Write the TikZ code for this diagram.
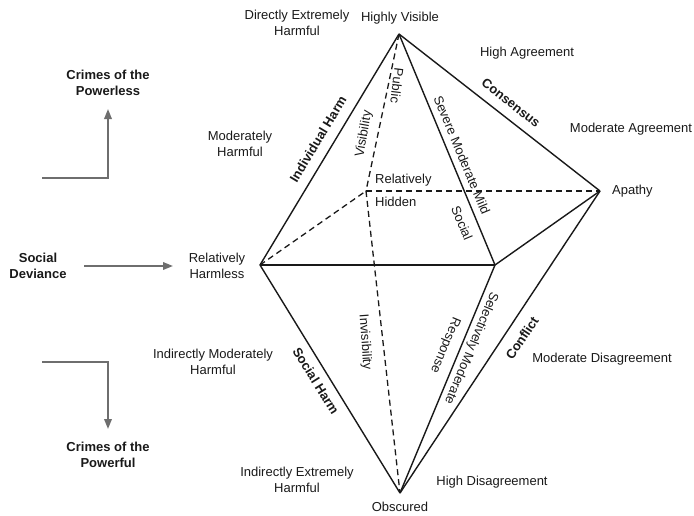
\documentclass[tikz,border=0pt]{standalone}
\usepackage{fontspec}
\setmainfont{Liberation Sans}
\usetikzlibrary{arrows.meta}
\definecolor{arrowgray}{HTML}{6E6E6E}
\begin{document}
\begin{tikzpicture}[x=1pt,y=-1pt,
  lbl/.style={font=\fontsize{13}{15.5}\selectfont, inner sep=0pt, align=center, text=black!90},
  blbl/.style={lbl, font=\fontsize{13}{15.5}\selectfont\bfseries},
  edge/.style={line width=1.4pt, black!90, line join=round},
  hid/.style={line width=1.3pt, black!90, dash pattern=on 6pt off 4pt},
  garrow/.style={line width=1.8pt, arrowgray, -{Triangle[length=10pt,width=7.5pt]}}
]
\useasboundingbox (0,0) rectangle (694,515);
% vertices
\coordinate (T) at (399,34);
\coordinate (L) at (260,265);
\coordinate (F) at (495,265);
\coordinate (B) at (366,191);
\coordinate (A) at (600,191);
\coordinate (O) at (400,493);
% hidden edges
\draw[hid] (T) -- (B);
\draw[hid] (B) -- (O);
\draw[hid] (L) -- (B);
\draw[hid] (B) -- (A);
% visible edges
\draw[edge] (T) -- (L);
\draw[edge] (T) -- (F);
\draw[edge] (T) -- (A);
\draw[edge] (L) -- (F);
\draw[edge] (F) -- (A);
\draw[edge] (L) -- (O);
\draw[edge] (F) -- (O);
\draw[edge] (A) -- (O);
% vertex labels
\node[lbl] (hv) at (400,18) {Highly Visible};
\node[lbl] (obs) at (400,507) {Obscured};
\node[lbl,anchor=west] (ap) at (612,191) {Apathy};
\node[lbl] (rh) at (217,266) {Relatively\\Harmless};
\node[lbl,anchor=west] (rel) at (375,180) {Relatively};
\node[lbl,anchor=west] (hidn) at (375,202) {Hidden};
% side labels
\node[lbl] (deh) at (297,23) {Directly Extremely\\Harmful};
\node[lbl] (mh) at (240,144) {Moderately\\Harmful};
\node[lbl] (imh) at (213,362) {Indirectly Moderately\\Harmful};
\node[lbl] (ieh) at (297,480) {Indirectly Extremely\\Harmful};
\node[lbl] (ha) at (527,53) {High Agreement};
\node[lbl] (ma) at (631,129) {Moderate Agreement};
\node[lbl] (md) at (602,359) {Moderate Disagreement};
\node[lbl] (hd) at (492,482) {High Disagreement};
% edge labels
\node[blbl,rotate=59] (ih) at (318,139) {Individual Harm};
\node[blbl,rotate=-58] (sh) at (316,381) {Social Harm};
\node[blbl,rotate=-38] (cons) at (511,103) {Consensus};
\node[blbl,rotate=56.5] (conf) at (522,338) {Conflict};
\node[lbl,rotate=80] (vis) at (364,134) {Visibility};
\node[lbl,rotate=-97] (pub) at (397,86) {Public};
\node[lbl,rotate=-86] (invis) at (365,342) {Invisibility};
\node[lbl,rotate=-67.4] (smm) at (462,155) {Severe Moderate Mild};
\node[lbl,rotate=-67.4] (soc) at (462,223) {Social};
\node[lbl,rotate=-112.6] (selm) at (471,348) {Selectively Moderate};
\node[lbl,rotate=-112.6] (resp) at (445,345) {Response};
% left side
\node[blbl] (cpl) at (108,83) {Crimes of the\\Powerless};
\node[blbl] (sd) at (38,266) {Social\\Deviance};
\node[blbl] (cpf) at (108,455) {Crimes of the\\Powerful};
\coordinate (up0) at (42,178);
\coordinate (upc) at (108,178);
\coordinate (up1) at (108,109);
\coordinate (dn0) at (42,362);
\coordinate (dnc) at (108,362);
\coordinate (dn1) at (108,429);
\coordinate (sd0) at (84,266);
\coordinate (sd1) at (173,266);
\draw[garrow] (up0) -- (upc) -- (up1);
\draw[garrow] (dn0) -- (dnc) -- (dn1);
\draw[garrow] (sd0) -- (sd1);
\end{tikzpicture}
\end{document}
